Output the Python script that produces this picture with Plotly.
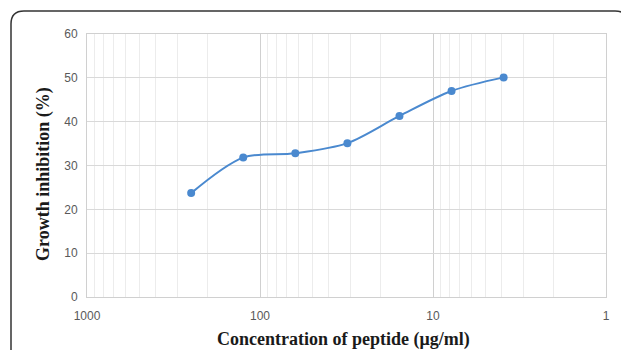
import plotly.graph_objects as go

# Data
concentration = [250, 125, 62.5, 31.25, 15.625, 7.8125, 3.90625]
inhibition = [23.7, 31.8, 32.8, 35.1, 41.3, 47.0, 50.1]
x_tick_vals = [1000, 100, 10, 1]
x_tick_text = ["1000", "100", "10", "1"]
y_tick_vals = [0, 10, 20, 30, 40, 50, 60]

W, H = 629, 350
OFF = 8  # page body margin
L, T = 87 - OFF, 34 - OFF
R = W - (606 - OFF)
B = H - (297 - OFF)
pw, ph = W - L - R, H - T - B

def px(x):
    return (x - OFF - L) / pw

def py(y):
    return 1 - (y - OFF - T) / ph

fig = go.Figure()
fig.add_trace(go.Scatter(
    x=concentration, y=inhibition, mode="lines+markers",
    line=dict(color="#4A89CF", width=2, shape="spline", smoothing=0.9),
    marker=dict(color="#4A89CF", size=8),
    showlegend=False,
))

# rounded frame
x0, y0, x1, y1, r = 11, 11, 628, 370, 13
path = (f"M {px(x0)},{py(y1)} L {px(x0)},{py(y0 + r)} "
        f"Q {px(x0)},{py(y0)} {px(x0 + r)},{py(y0)} "
        f"L {px(x1 - r)},{py(y0)} Q {px(x1)},{py(y0)} {px(x1)},{py(y0 + r)} "
        f"L {px(x1)},{py(y1)}")
fig.add_shape(type="path", path=path, xref="paper", yref="paper",
              line=dict(color="#333333", width=1.5), layer="below")

tick_font = dict(family="Liberation Sans, Arial", size=12, color="#595959")
title_font = dict(family="Liberation Serif, Times New Roman", size=18, color="#1a1a1a")
fig.update_layout(
    width=W, height=H,
    margin=dict(l=L, r=R, t=T, b=B, autoexpand=False),
    paper_bgcolor="white", plot_bgcolor="white",
    xaxis=dict(
        type="log", range=[3, 0], tickvals=x_tick_vals, ticktext=x_tick_text,
        showgrid=True, gridcolor="#d0d0d0", gridwidth=1,
        minor=dict(dtick="D1", showgrid=True, gridcolor="#ececec", gridwidth=1),
        showline=True, linecolor="#d0d0d0", linewidth=1, mirror=True,
        ticks="", tickfont=tick_font, zeroline=False, ticklabelstandoff=8,
    ),
    yaxis=dict(
        range=[0, 60], tickvals=y_tick_vals, showgrid=True,
        gridcolor="#d9d9d9", gridwidth=1,
        showline=True, linecolor="#d0d0d0", linewidth=1, mirror=True,
        ticks="", tickfont=tick_font, zeroline=False, ticklabelstandoff=6,
    ),
    annotations=[
        dict(text="<b>Concentration of peptide (μg/ml)</b>", xref="paper", yref="paper",
             x=px(343), y=py(339), xanchor="center", yanchor="middle", showarrow=False,
             font=title_font),
        dict(text="<b>Growth inhibition (%)</b>", xref="paper", yref="paper",
             x=px(43), y=py(174), xanchor="center", yanchor="middle",
             textangle=-90, showarrow=False, font=title_font),
    ],
)

fig.write_html("out.html")
